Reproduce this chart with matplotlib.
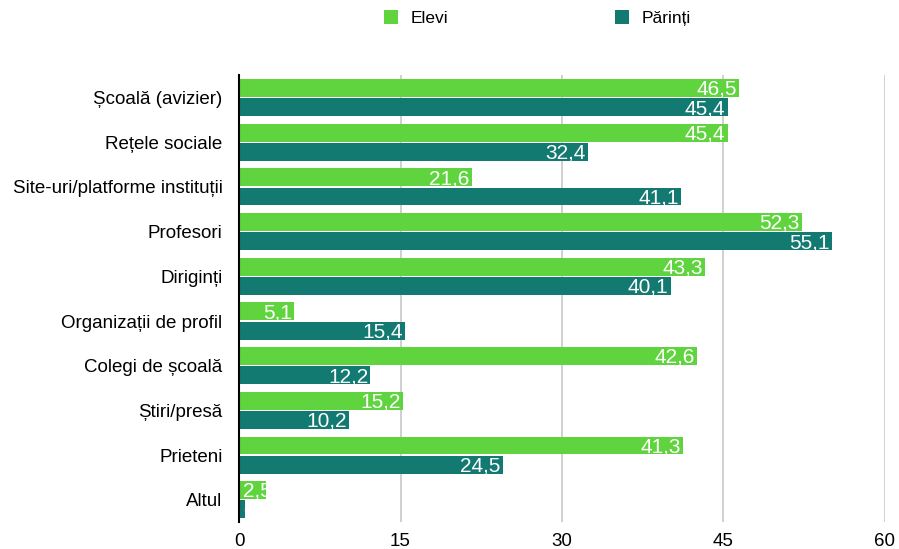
import matplotlib
matplotlib.use("Agg")
import matplotlib.pyplot as plt
import numpy as np

plt.rcParams['font.family'] = ['Liberation Sans', 'DejaVu Sans']

# Data
categories = ["Școală (avizier)", "Rețele sociale", "Site-uri/platforme instituții",
              "Profesori", "Diriginți", "Organizații de profil", "Colegi de școală",
              "Știri/presă", "Prieteni", "Altul"]
elevi = [46.5, 45.4, 21.6, 52.3, 43.3, 5.1, 42.6, 15.2, 41.3, 2.5]
parinti = [45.4, 32.4, 41.1, 55.1, 40.1, 15.4, 12.2, 10.2, 24.5, 0.5]
xticks = [0, 15, 30, 45, 60]

green = "#5fd43f"
teal = "#137a72"

fig = plt.figure(figsize=(8.99, 5.49), dpi=100)
ax = fig.add_axes([0.266, 0.049, 0.718, 0.814])

y = np.arange(len(categories))
h = 0.4
b1 = ax.barh(y - h / 2 - 0.015, elevi, height=h, color=green, zorder=3)
b2 = ax.barh(y + h / 2 + 0.015, parinti, height=h, color=teal, zorder=3)

# value labels inside bars, clipped to the bar; short bars get the label from the left
for bars, vals in ((b1, elevi), (b2, parinti)):
    for bar, v in zip(bars, vals):
        if v < 4:
            x, ha = 0.35, "left"
        else:
            x, ha = v - 0.2, "right"
        t = ax.text(x, bar.get_y() + bar.get_height() / 2 + 0.03,
                    f"{v:.1f}".replace(".", ","), ha=ha, va="center",
                    color="white", fontsize=15, zorder=4)
        t.set_clip_path(bar)

ax.set_ylim(len(categories) - 0.5, -0.5)
ax.set_xlim(0, 60)
ax.set_yticks(y)
ax.set_yticklabels(categories, fontsize=13.5)
ax.set_xticks(xticks)
ax.set_xticklabels([str(x) for x in xticks], fontsize=13.5)
ax.tick_params(length=0, pad=8)
ax.tick_params(axis="y", pad=12)
ax.xaxis.grid(True, color="#c8c8c8", linewidth=1.2, zorder=0)
for s in ("top", "right", "bottom"):
    ax.spines[s].set_visible(False)
ax.spines["left"].set_color("black")
ax.spines["left"].set_linewidth(1.5)
ax.spines["left"].set_zorder(5)

fig.legend([b1, b2], ["Elevi", "Părinți"], loc="center", bbox_to_anchor=(0.598, 0.967),
           ncol=2, frameon=False, fontsize=12.5, handlelength=0.8, handleheight=0.8,
           columnspacing=9.6, handletextpad=0.75)

fig.savefig("out.png", dpi=100)
